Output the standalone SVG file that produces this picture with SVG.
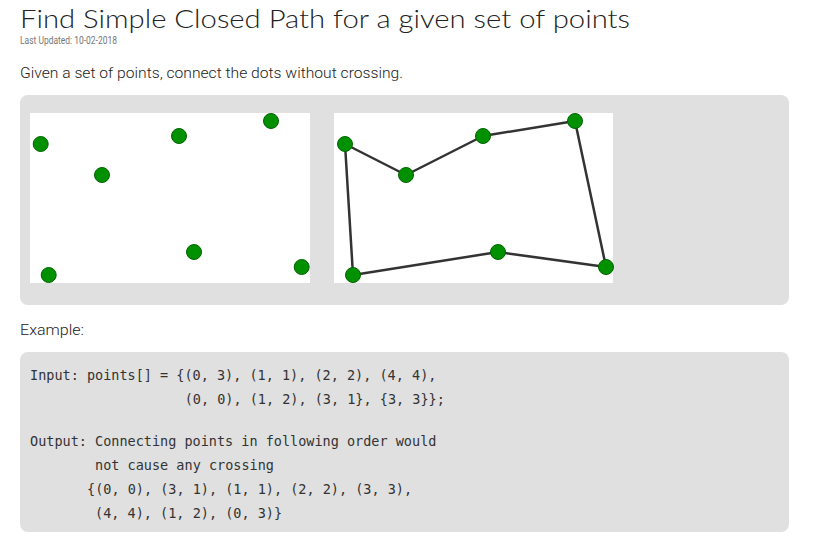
<svg xmlns="http://www.w3.org/2000/svg" width="814" height="550" viewBox="0 0 814 550">
<style>
.title{font-family:"Lato","Noto Sans",sans-serif;font-size:26px;font-weight:300;fill:#222}
.meta{font-family:"Roboto","Liberation Sans",sans-serif;font-size:10px;fill:#777}
.body{font-family:"Roboto","Liberation Sans",sans-serif;font-size:15px;font-weight:300;fill:#222}
.code{font-family:"DejaVu Sans Mono","Liberation Mono",monospace;font-size:13.5px;fill:#333}
.box{fill:#e0e0e0}
.panel{fill:#ffffff}
.dot{fill:#009000;stroke:#006400;stroke-width:1}
.edge{stroke:#333;stroke-width:2.5;fill:none;stroke-linejoin:round}
</style>
<rect width="814" height="550" fill="#ffffff"/>
<text class="title" x="20" y="28" textLength="610" lengthAdjust="spacingAndGlyphs">Find Simple Closed Path for a given set of points</text>
<text class="meta" x="20" y="44" textLength="97" lengthAdjust="spacingAndGlyphs">Last Updated: 10-02-2018</text>
<text class="body" x="20" y="78" textLength="383" lengthAdjust="spacingAndGlyphs">Given a set of points, connect the dots without crossing.</text>
<rect class="box" x="20" y="95" width="769" height="210" rx="8"/>
<g id="panel-left">
<rect class="panel" x="30" y="113" width="280" height="170"/>
</g>
<g id="panel-right">
<rect class="panel" x="334" y="113" width="279" height="170"/>
</g>
<g id="connectors">
<polygon class="edge" points="345,144 406,175 483,136 575,121 606,267 498,252 353,275"/>
</g>
<g id="left-points">
<circle class="dot" cx="40.7" cy="144" r="7.5"/>
<circle class="dot" cx="179" cy="136" r="7.5"/>
<circle class="dot" cx="271" cy="121" r="7.5"/>
<circle class="dot" cx="102" cy="175" r="7.5"/>
<circle class="dot" cx="194" cy="252" r="7.5"/>
<circle class="dot" cx="48.7" cy="275" r="7.5"/>
<circle class="dot" cx="301.7" cy="267" r="7.5"/>
</g>
<g id="right-points">
<circle class="dot" cx="345" cy="144" r="7.5"/>
<circle class="dot" cx="406" cy="175" r="7.5"/>
<circle class="dot" cx="483" cy="136" r="7.5"/>
<circle class="dot" cx="575" cy="121" r="7.5"/>
<circle class="dot" cx="498" cy="252" r="7.5"/>
<circle class="dot" cx="353" cy="275" r="7.5"/>
<circle class="dot" cx="606" cy="267" r="7.5"/>
</g>
<text class="body" x="20" y="335" textLength="64" lengthAdjust="spacingAndGlyphs">Example:</text>
<rect class="box" x="20" y="352" width="769" height="180" rx="8"/>
<g id="code">
<text class="code" x="30" y="380">Input: points[] = {(0, 3), (1, 1), (2, 2), (4, 4),</text>
<text class="code" x="184.7" y="404">(0, 0), (1, 2), (3, 1}, {3, 3}};</text>
<text class="code" x="30" y="446">Output: Connecting points in following order would</text>
<text class="code" x="95.1" y="470">not cause any crossing</text>
<text class="code" x="87" y="494">{(0, 0), (3, 1), (1, 1), (2, 2), (3, 3),</text>
<text class="code" x="95.1" y="518">(4, 4), (1, 2), (0, 3)}</text>
</g>
</svg>
